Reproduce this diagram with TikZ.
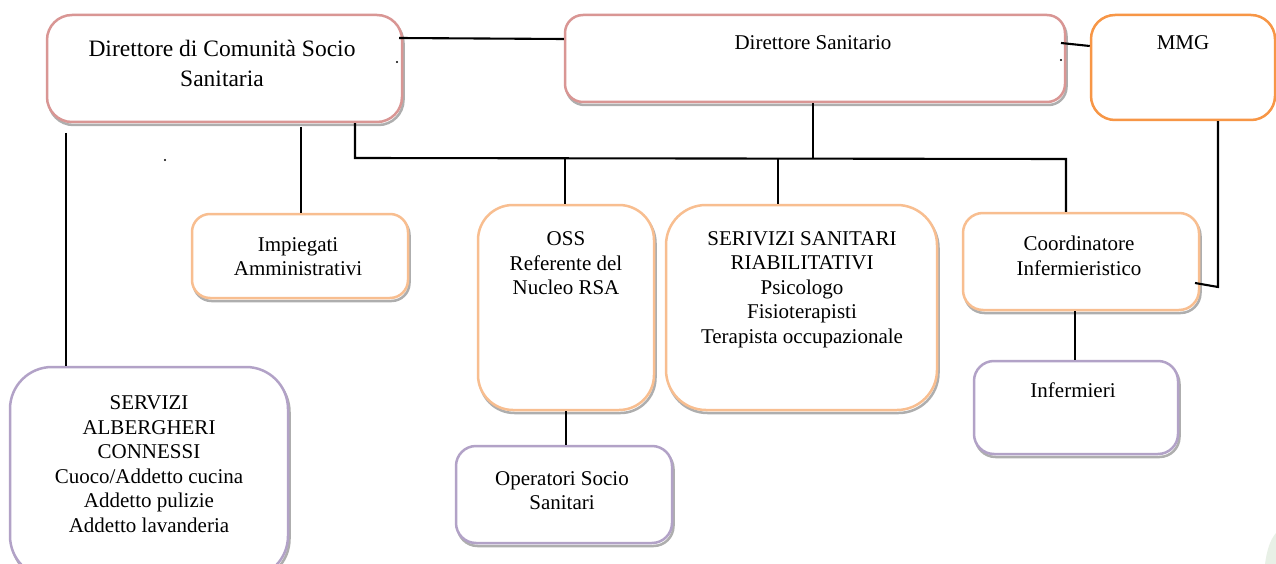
\documentclass[tikz,border=0pt]{standalone}
\usepackage{fontspec}
\setmainfont{Liberation Serif}
\usetikzlibrary{shadows}
\definecolor{pinkb}{RGB}{217,150,148}
\definecolor{orangel}{RGB}{248,190,144}
\definecolor{oranged}{RGB}{247,150,70}
\definecolor{purpleb}{RGB}{178,162,199}
\begin{document}
\begin{tikzpicture}[x=1pt,y=-1pt,
  box/.style={draw, fill=white, line width=2.5pt, inner sep=0pt},
  shad/.style={drop shadow={shadow xshift=1.5pt, shadow yshift=-3pt, fill=none, draw=black!70, opacity=0.45, line width=2.5pt}},
  txt/.style={align=center, inner sep=0pt, font=\fontsize{21}{24.5}\selectfont},
  conn/.style={line width=2.1pt, black},
  dot/.style={fill=black, circle, inner sep=0pt, minimum size=2.4pt}
]
\useasboundingbox[fill=white] (0,0) rectangle (1276,564);

% boxes
\node[box, shad, draw=pinkb, rounded corners=25pt, minimum width=355pt, minimum height=107pt] (dcs) at (224.5,68.5) {};
\node[box, shad, draw=pinkb, rounded corners=18pt, minimum width=500pt, minimum height=87pt] (ds) at (815,58.5) {};
\node[box, draw=oranged, rounded corners=24pt, minimum width=184pt, minimum height=105pt] (mmg) at (1183,67.5) {};
\node[box, shad, draw=orangel, rounded corners=18pt, minimum width=216pt, minimum height=84pt] (imp) at (300,256) {};
\node[box, shad, draw=orangel, rounded corners=35pt, minimum width=176pt, minimum height=205pt] (oss) at (566,307.5) {};
\node[box, shad, draw=orangel, rounded corners=40pt, minimum width=271pt, minimum height=205pt] (ssr) at (801.5,307.5) {};
\node[box, shad, draw=orangel, rounded corners=20pt, minimum width=236pt, minimum height=97pt] (coord) at (1081,261.5) {};
\node[box, shad, draw=purpleb, rounded corners=42pt, minimum width=278pt, minimum height=211pt] (sal) at (149,472.5) {};
\node[box, shad, draw=purpleb, rounded corners=20pt, minimum width=216pt, minimum height=97pt] (ops) at (564,494.5) {};
\node[box, shad, draw=purpleb, rounded corners=20pt, minimum width=204pt, minimum height=93pt] (inf) at (1076,407.5) {};

% texts
\node[txt, font=\fontsize{23.5}{30}\selectfont] (tdcs) at (222,63) {Direttore di Comunità Socio\\Sanitaria};
\node[txt] (tds) at (813,43) {Direttore Sanitario};
\node[txt] (tmmg) at (1183,43) {MMG};
\node[txt] (timp) at (298,256.5) {Impiegati\\Amministrativi};
\node[txt] (toss) at (566,263.5) {OSS\\Referente del\\Nucleo RSA};
\node[txt] (tssr) at (802,289.5) {SERIVIZI SANITARI\\RIABILITATIVI\\Psicologo\\Fisioterapisti\\Terapista occupazionale};
\node[txt] (tcoord) at (1079,256) {Coordinatore\\Infermieristico};
\node[txt] (tsal) at (149,464) {SERVIZI\\ALBERGHERI\\CONNESSI\\Cuoco/Addetto cucina\\Addetto pulizie\\Addetto lavanderia};
\node[txt] (tops) at (562,490.5) {Operatori Socio\\Sanitari};
\node[txt] (tinf) at (1073,390) {Infermieri};

% connectors
\coordinate (j1) at (399,38);
\draw[conn] (j1) -- (ds.west |- 0,39);
\coordinate (j2) at (1061,43);
\draw[conn] (j2) -- (mmg.west |- 0,46);
\coordinate (c1) at (66,133);
\draw[conn] (c1) -- (c1 |- sal.north);
\coordinate (c2) at (301,127);
\draw[conn] (c2) -- (c2 |- imp.north);
\coordinate (b0) at (355,158);
\coordinate (b1) at (1066,159);
\draw[conn] (b0 |- dcs.south) -- (b0) -- (b1) -- (b1 |- coord.north);
\draw[conn] (ds.south -| 813,0) -- (813,158.5);
\coordinate (d1) at (565,158.2);
\draw[conn] (d1) -- (d1 |- oss.north);
\coordinate (d2) at (778,158.6);
\draw[conn] (d2) -- (d2 |- ssr.north);
\draw[conn] (oss.south) -- (oss.south |- ops.north);
\coordinate (d3) at (1075,310);
\draw[conn] (d3 |- coord.south) -- (d3 |- inf.north);
\coordinate (m1) at (1218,287);
\coordinate (m2) at (1195,283);
\draw[conn] (m1 |- mmg.south) -- (m1) -- (m2);

% stray dots
\node[dot] (p1) at (397,62) {};
\node[dot] (p2) at (1061,60) {};
\node[dot] (p3) at (165,160) {};

% faint corner fragment
\fill[color={rgb,255:red,232;green,240;blue,230}] (1265,564) .. controls (1267,550) and (1270,540) .. (1276,533) -- (1276,564) -- cycle;
\end{tikzpicture}
\end{document}
